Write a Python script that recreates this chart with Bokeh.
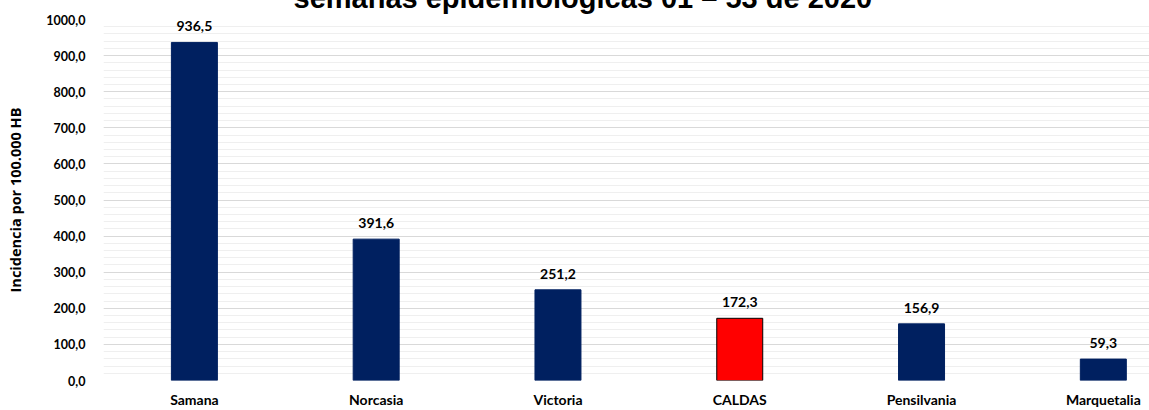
from bokeh.plotting import figure
from bokeh.models import ColumnDataSource, Range1d, SingleIntervalTicker, FixedTicker, LabelSet
from bokeh.core.properties import value
from bokeh.embed import file_html
from bokeh.resources import INLINE

categories = ["Samana", "Norcasia", "Victoria", "CALDAS", "Pensilvania", "Marquetalia"]
values = [936.5, 391.6, 251.2, 172.3, 156.9, 59.3]
highlight = "CALDAS"
y_ticks = list(range(0, 1001, 100))
title_text = "semanas epidemiológicas 01 – 53 de 2020"
y_title = "Incidencia por 100.000 HB"

NAVY = "#002060"
RED = "#FF0000"
FONT = "Lato"
HIDDEN_TOP = 40  # part of the canvas scrolled above the window (title is cut off in the reference)

xs = [i + 0.5 for i in range(len(categories))]
src = ColumnDataSource(dict(
    x=xs,
    top=values,
    cat=categories,
    lab=[f"{v:.1f}".replace(".", ",") for v in values],
    fill=[RED if c == highlight else NAVY for c in categories],
    line=["black" if c == highlight else NAVY for c in categories],
))

p = figure(width=1149, height=410 + HIDDEN_TOP, output_backend="svg", toolbar_location=None,
           x_range=Range1d(0, 5.754), y_range=Range1d(0, 1000),
           min_border_left=103, min_border_right=0, min_border_top=19 + HIDDEN_TOP,
           min_border_bottom=28)
p.styles = {"margin-top": f"-{HIDDEN_TOP}px"}
p.outline_line_color = None
p.background_fill_color = "white"
p.border_fill_color = "white"

p.title.text = title_text
p.title.align = "left"
p.title.offset = 190
p.title.text_font = "Liberation Sans"
p.title.text_font_style = "bold"
p.title.text_font_size = "29px"
p.title.text_color = "black"
p.title.standoff = 11

p.vbar(x="x", top="top", bottom=0, width=0.253, source=src,
       fill_color="fill", line_color="line", line_width=1)

# x axis (categories)
xax = p.xaxis[0]
xax.ticker = FixedTicker(ticks=xs)
xax.major_label_overrides = {x: c for x, c in zip(xs, categories)}
xax.axis_line_color = None
xax.major_tick_line_color = None
xax.minor_tick_line_color = None
xax.major_tick_out = 0
xax.major_tick_in = 0
xax.major_label_standoff = 10
xax.major_label_text_font = FONT
xax.major_label_text_font_style = "bold"
xax.major_label_text_font_size = "14px"
xax.major_label_text_color = "black"

# y axis
yax = p.yaxis[0]
yax.ticker = SingleIntervalTicker(interval=100, num_minor_ticks=5)
yax.major_label_overrides = {t: f"{t:.1f}".replace(".", ",") for t in y_ticks}
yax.axis_line_color = None
yax.major_tick_line_color = None
yax.minor_tick_line_color = None
yax.major_tick_out = 0
yax.major_tick_in = 0
yax.major_label_text_font = FONT
yax.major_label_text_font_style = "bold"
yax.major_label_text_font_size = "12.5px"
yax.major_label_text_color = "black"
yax.major_label_standoff = 14
yax.axis_label = y_title
yax.axis_label_text_font = "Open Sans"
yax.axis_label_text_font_style = "bold"
yax.axis_label_text_font_size = "14.5px"
yax.axis_label_text_color = "black"
yax.axis_label_standoff = 18

p.xgrid.visible = False
p.ygrid.grid_line_color = "#d9d9d9"
p.ygrid.grid_line_width = 1
p.ygrid.minor_grid_line_color = "#efefef"
p.ygrid.minor_grid_line_width = 1

# value labels
p.add_layout(LabelSet(x="x", y="top", text="lab", source=src, y_offset=11,
                      text_align="center", text_baseline="bottom",
                      text_font=value(FONT), text_font_style="bold", text_font_size="14px",
                      text_color="black"))

open("out.html", "w").write(file_html(p, INLINE))
